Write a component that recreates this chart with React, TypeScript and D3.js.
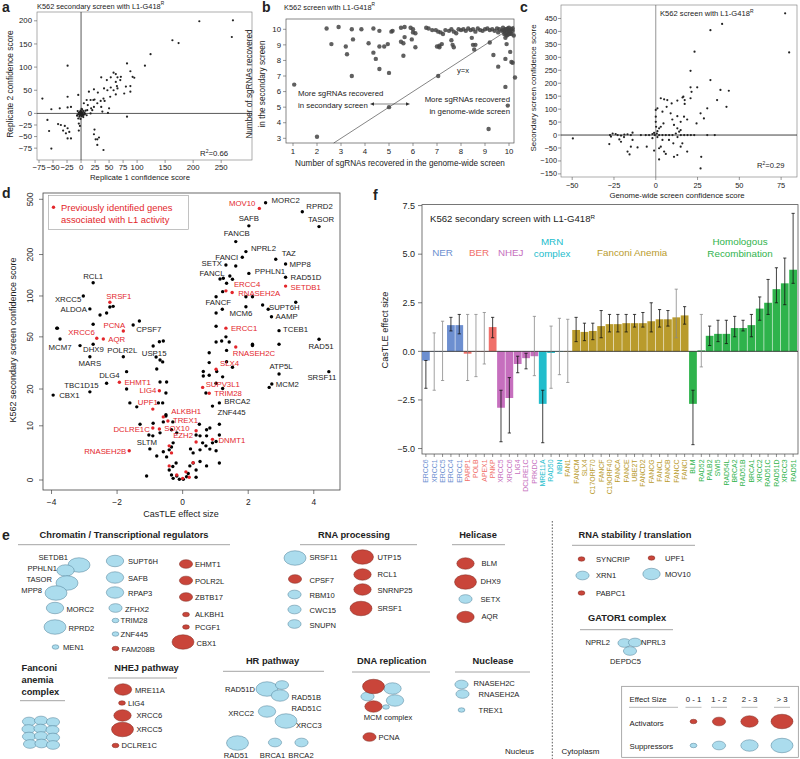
import React from "react";
import * as d3 from "d3";

const FONT = "'Liberation Sans', Arial, Helvetica, sans-serif";
const INK = "#222";
const RED = "#e3262b";

// ---------- panel a: replicate 1 vs replicate 2 confidence score
const aPoints: [number, number][] = [
  [271, 201], [211, 199], [269, 165], [163, 158], [174, 152], [124, 128], [114, 103], [82, 108], [-24, 103],
  [36, 78], [53, 78], [58, 88], [62, 85], [65, 78], [62, 68], [46, 72], [53, 56], [41, 54], [58, 50], [65, 54],
  [62, 41], [52, 36], [47, 50], [40, 32], [23, 52], [30, 45], [24, 30], [17, 29], [12, 18], [18, 11], [10, 29],
  [5, 22], [-5, 40], [-18, 14], [-24, 36], [-24, 13], [-38, 11], [-69, 32], [-53, 9], [-60, -14], [-57, -38],
  [-53, -76], [-41, -23], [-36, -25], [-29, -27], [-24, -32], [-21, -40], [-24, -54], [-18, -54], [-27, -43],
  [-32, -37], [-7, -4], [-5, -11], [-4, -22], [-2, -27], [-4, -37], [23, -45], [24, -35], [26, -56], [29, -56],
  [29, -68], [40, -79], [32, -52], [82, -7], [48, 1], [88, 91], [92, 79], [95, 77], [88, 59], [88, 47], [80, 58],
  [70, 72], [64, 59], [71, 79], [77, 43], [14, 47], [22, 29], [29, 22], [35, 27], [42, 27], [23, 14], [20, 7],
  [11, 7], [17, 0], [10, -4], [36, 14], [50, 11], [38, 4], [-3, 2], [-1, -1], [1, 3], [2, -2], [0, 0], [-2, -4],
  [3, 1], [4, 5], [-4, 1], [5, -3], [1, -6], [-1, 6], [2, 8], [-5, -2], [6, 2], [3, -5], [-2, 3], [0, -3], [0, 4],
  [7, -1], [-6, 5], [-3, -7], [1, 10], [4, -8], [-1, -12], [2, 1], [-2, -1], [8, 6], [-7, -5], [0, 2],
];
const aXTicks = [-75, -50, -25, 0, 25, 50, 75, 100, 150, 200, 250];
const aYTicks = [-75, -50, -25, 0, 50, 100, 150, 200];

// ---------- panel b: sgRNAs recovered
const bPoints: [number, number][] = [
  [1.05, 6.45], [2.0, 3.1], [2.4, 10.05], [2.6, 9.05], [2.9, 10.15], [3.2, 8.9], [3.25, 8.4], [3.45, 10.0],
  [3.5, 9.35], [3.45, 7.0], [3.85, 10.0], [4.15, 9.1], [4.35, 10.05], [4.35, 8.5], [4.45, 8.1], [4.6, 9.9],
  [4.6, 8.9], [4.6, 7.45], [4.8, 8.9], [4.95, 9.05], [5.0, 7.2], [5.0, 5.0], [5.1, 9.85], [5.15, 9.9],
  [5.5, 10.1], [5.5, 9.2], [5.6, 9.1], [5.65, 10.15], [5.65, 9.5], [5.6, 8.3], [5.9, 10.1], [5.95, 9.35],
  [6.0, 9.8], [6.1, 9.75], [6.0, 10.0], [6.1, 8.85], [6.55, 10.1], [6.65, 10.05], [6.8, 9.95], [6.95, 9.95],
  [7.0, 8.9], [7.05, 9.85], [7.05, 7.0], [7.1, 8.95], [7.15, 9.8], [7.2, 9.05], [7.1, 8.85], [7.25, 9.7],
  [7.35, 9.95], [7.5, 9.9], [7.6, 10.0], [7.6, 9.3], [7.65, 9.0], [7.7, 9.85], [7.7, 8.85], [7.8, 9.75],
  [7.9, 10.0], [8.0, 9.95], [8.1, 10.0], [8.2, 9.9], [8.3, 10.05], [8.4, 9.95], [8.45, 9.45], [8.5, 10.0],
  [8.5, 9.0], [8.55, 8.7], [8.6, 9.85], [8.6, 9.0], [8.7, 10.05], [8.8, 9.95], [8.9, 9.9], [9.0, 10.0],
  [9.1, 10.05], [9.2, 9.95], [9.2, 9.15], [9.3, 10.0], [9.35, 8.35], [9.4, 9.9], [9.5, 10.05], [9.55, 9.8],
  [9.55, 7.6], [9.6, 10.0], [9.7, 9.9], [9.75, 10.1], [9.8, 9.7], [9.85, 10.0], [9.85, 8.1], [9.85, 9.45],
  [9.85, 6.3], [9.9, 9.85], [9.9, 9.05], [9.9, 9.6], [9.95, 10.05], [9.95, 5.1], [10.0, 9.95], [10.0, 10.1],
  [10.05, 9.75], [10.05, 8.55], [10.1, 10.0], [10.1, 7.9], [10.15, 9.9], [10.15, 7.85], [10.2, 9.6],
  [10.25, 6.9], [9.15, 3.6], [9.8, 9.9], [9.9, 10.0], [10.0, 9.85], [10.1, 9.7], [9.95, 9.65], [10.05, 9.9],
  [9.75, 9.95], [10.15, 10.05], [9.85, 9.75], [10.0, 9.7],
];
const bXTicks = [1, 2, 3, 4, 5, 6, 7, 8, 9, 10];
const bYTicks = [3, 4, 5, 6, 7, 8, 9, 10];

// ---------- panel c: genome-wide vs secondary screen
const cPoints: [number, number][] = [
  [77.4, 470], [39.7, 429], [32.7, 405], [79.8, 319], [23.2, 322], [20.8, 248], [32.7, 212], [38.7, 174],
  [43.7, 171], [24.8, 184], [20.8, 184], [21.4, 167], [20.8, 142], [16.5, 148], [36.7, 135], [42.3, 109],
  [30.8, 103], [28.8, 64], [26.8, 84], [24.4, 45], [30.8, 0], [35.3, 0], [3, 142], [5, 138], [6.9, 135],
  [9.5, 122], [12.9, 133], [16, 145], [17.3, 135], [17.3, 120], [6.5, 109], [1, 103], [4, 90], [8.9, 84],
  [12.9, 73], [16.9, 71], [18.8, 60], [14.9, 51], [9.9, 60], [4.6, 45], [2, 26], [0, 97], [0, 71], [0, 51],
  [0.2, 32], [3, 32], [10.9, 39], [12.9, 26], [14.9, 19], [-27.4, 0], [-25.8, 6], [-22.8, 0], [-20.8, -2],
  [-18.8, 2], [-16.9, 3], [-14.9, 0], [-13.9, 9], [-8.9, 0], [-6, 0], [-4, 0], [-2, 4], [-0.6, 0], [0.6, 6],
  [2, 0], [4, 0], [6, 0], [8, 0], [10, 0], [12, 6], [14, 13], [15, 0], [17, 0], [19, 0], [21, 0], [23, 0],
  [-49.6, -13], [-27.8, -35], [-26.8, -6], [-21.8, -17], [-20.8, -26], [-16.9, -64], [-15.7, -75], [-14.9, -45],
  [-13.9, -19], [-10.9, -48], [-5.4, -45], [-1, -60], [2, -51], [3, -45], [4, -19], [5, -64], [6, -73],
  [2, -94], [10.9, -84], [12.9, -77], [14.9, -45], [15.9, -32], [18.8, -64], [27.2, -84], [26.8, -129],
  [7.9, -19], [10.5, -32], [-1, 8], [1, -8], [-2, -12], [1, 15], [13, -8], [-19, -8], [-24, 4],
];
const cXTicks = [-50, -25, 0, 25, 50, 75];
const cYTicks = [-150, -100, -50, 0, 50, 100, 150, 200, 250, 300, 350, 400, 450];

// ---------- panel d: CasTLE effect vs confidence score
// [gene, effect size, confidence score, previously identified]
const dLabeled: [string, number, number, boolean][] = [
  ["MOV10", 2.34, 430, true], ["MORC2", 2.53, 472, false], ["RPRD2", 3.65, 407, false],
  ["TASOR", 4.16, 318, false], ["SAFB", 2.02, 322, false], ["FANCB", 1.62, 248, false],
  ["NPRL2", 1.93, 210, false], ["TAZ", 2.84, 185, false], ["MPP8", 3.14, 171, false],
  ["FANCI", 1.82, 191, false], ["SETX", 1.32, 168, false], ["FANCL", 1.14, 133, false],
  ["PPHLN1", 2.02, 146, false], ["RAD51D", 3.14, 137, false], ["SETDB1", 3.14, 118, true],
  ["ERCC4", 1.32, 109, true], ["RNASEH2A", 1.51, 106, true], ["FANCF", 1.21, 80, false],
  ["MCM6", 1.93, 83.5, false], ["SUPT6H", 3.45, 90, false], ["AAMP", 2.71, 70.5, false],
  ["TCEB1", 2.94, 55.6, false], ["RAD51", 4.16, 48, false], ["ERCC1", 1.32, 58, true],
  ["RNASEH2C", 1.62, 42, true], ["ATP5L", 2.94, 26.2, false], ["MCM2", 2.72, 21.9, false],
  ["SRSF11", 4.46, 27.3, false], ["SLX4", 1.02, 28.5, true], ["SUPV3L1", 0.61, 20.6, true],
  ["TRIM28", 0.81, 18.5, true], ["BRCA2", 1.12, 15.5, false], ["ZNF445", 0.91, 14.6, false],
  ["DNMT1", 0.91, 7.5, true], ["EZH2", 0.41, 9.1, true], ["SOX10", -0.71, 9.4, true],
  ["ALKBH1", -0.59, 11.9, true], ["TREX1", -0.45, 11.0, true], ["DCLRE1C", -0.91, 9.6, true],
  ["SLTM", -1.03, 8.3, false], ["RNASEH2B", -1.63, 5.4, true], ["UPF1", -0.91, 13.8, true],
  ["LIG4", -0.71, 19.4, true], ["EHMT1", -1.93, 22.6, true], ["DLG4", -1.71, 27.3, false],
  ["TBC1D15", -2.32, 22.2, false], ["CBX1", -3.95, 17.9, false], ["MARS", -2.83, 35.5, false],
  ["MCM7", -3.74, 48.2, false], ["DHX9", -3.13, 43, false], ["POLR2L", -1.81, 35.5, false],
  ["USP15", -0.9, 42.7, false], ["CPSF7", -1.51, 61.2, false], ["PCNA", -1.81, 55.3, true],
  ["AQR", -2.42, 48.2, true], ["XRCC6", -2.62, 48.8, true], ["ALDOA", -2.83, 80.4, false],
  ["SRSF1", -2.22, 90, true], ["XRCC5", -3.03, 100, false], ["RCL1", -2.73, 125, false],
];
const dOther: [number, number][] = [
  [-2.22, 83], [-2.12, 84], [-2.52, 72.6], [-2.32, 75], [-3.82, 58], [-2.73, 44], [-2.73, 62], [-1.32, 65.5],
  [-0.71, 46], [-0.59, 46.6], [-0.81, 35.3], [-0.69, 33.5], [-0.61, 32.4], [-0.79, 28.6], [-1.71, 20],
  [-1.61, 15.5], [-1.4, 14.4], [-0.69, 22.7], [-0.49, 22.7], [-0.51, 18.6], [-0.74, 15.5], [-0.61, 15.5],
  [-0.51, 12.4], [-2.83, 19], [-1.3, 10.3], [-0.9, 10.5], [-0.91, 8.15], [-0.69, 8.7], [-0.51, 12.1],
  [-0.59, 10.8], [-0.3, 10.8], [-0.34, 9.26], [-1.0, 5.74], [-0.79, 4.44], [-0.59, 5.2], [-0.49, 4.26],
  [-0.41, 5.56], [-0.29, 6.85], [-0.34, 6.1], [-0.2, 3.15], [-0.3, 2.5], [-0.41, 1.85], [-0.34, 0.93],
  [-0.29, 0.3], [-0.18, 0.74], [-0.1, 0.15], [0.02, 0.15], [0.12, 0.6], [0.17, 1.2], [0.22, 2.6], [0.32, 3.15],
  [0.41, 1.85], [0.41, 0.5], [0.53, 3.4], [0.24, 5.74], [0.32, 5.0], [0.53, 5.56], [0.61, 6.85], [0.51, 10.3],
  [0.41, 8.3], [0.73, 9.26], [0.83, 9.6], [0.71, 6.3], [0.83, 5.7], [1.02, 5.4], [0.91, 6.85], [1.02, 7.1],
  [1.12, 8.3], [1.12, 3.15], [0.73, 2.6], [-1.1, 0.74], [0.53, 8.15], [0.73, 8.15], [-0.18, 8.7],
  [1.62, 165], [1.24, 134.6], [1.34, 123.8], [1.44, 139.8], [1.52, 132.3], [1.22, 107.5], [1.02, 98.8],
  [1.93, 98.8], [2.13, 98.8], [2.44, 86], [2.61, 80], [1.02, 75], [1.02, 60], [1.02, 45.8], [1.19, 46.5],
  [1.32, 50], [1.42, 45.8], [0.81, 38], [0.81, 32], [1.34, 39.6], [1.34, 32.5], [1.52, 29.5], [2.13, 44],
  [2.13, 43], [0.63, 27.4], [0.63, 25.3], [0.81, 25.6], [1.04, 27.4], [1.02, 22.2], [1.22, 24.9], [1.22, 20.2],
  [0.71, 18.6], [2.64, 20.6], [2.94, 44], [1.12, 10.3], [-3.84, 58],
];
const dOtherRed: [number, number][] = [
  [0.41, 7.0], [-0.41, 6.3], [-0.34, 5.0], [-0.41, 2.6], [-0.18, 0.93], [0.32, 3.2], [0.1, 1.5], [0.0, 0.3], [0.2, 0.5],
];
const dXTicks = [-4, -2, 0, 2, 4];
const dYTicks = [0, 10, 20, 50, 100, 200, 500];

// ---------- panel f: CasTLE effect per DNA repair gene
const fGenes = [
  "ERCC6", "XRCC1", "ERCC5", "ERCC4", "ERCC1", "PARP1", "POLB", "APEX1", "PNKP", "XRCC5", "XRCC6", "LIG4",
  "DCLRE1C", "PRKDC", "MRE11A", "RAD50", "NBN", "FAN1", "FANCM", "SLX4", "C17ORF70", "FANCF", "C19ORF40",
  "FANCA", "FANCE", "UBE2T", "FANCD2", "FANCG", "FANCL", "FANCB", "FANCC", "FANCI", "BLM", "RAD52", "PALB2",
  "SWI5", "RAD54L", "BRCA2", "RAD51B", "BRCA1", "XRCC2", "RAD51C", "RAD51D", "XRCC3", "RAD51",
];
const fValues = [
  -0.47, 0.02, 0.02, 1.35, 1.35, -0.12, 0.02, 0.02, 1.25, -2.9, -2.4, -0.65, -0.35, -0.25, -2.7, -0.08, 0.02,
  0.02, 1.1, 1.0, 1.05, 1.3, 1.4, 1.4, 1.45, 1.45, 1.45, 1.55, 1.65, 1.65, 1.75, 1.85, -2.7, 0.05, 0.8, 0.9,
  0.9, 1.2, 1.2, 1.35, 2.2, 2.5, 3.2, 3.5, 4.2,
];
const fLow = [
  -1.9, -2.0, -1.5, 1.05, 0.9, -1.5, -1.3, -0.65, 0.7, -4.65, -4.2, -1.1, -0.9, -1.25, -4.7, -1.9, -1.2, -1.6,
  0.5, 0.55, 0.6, 0.7, 1.0, 1.0, 1.0, 1.25, 1.25, 1.0, 1.25, 1.3, 0.7, 1.4, -4.8, -0.8, 0.3, 0.5, 0.4, 0.75,
  1.05, 0.75, 1.6, 1.9, 2.5, 2.4, 3.5,
];
const fHigh = [
  -0.47, 0.95, 1.55, 1.75, 1.9, 1.9, 1.9, 2.0, 1.75, -2.0, -1.35, -0.25, -0.1, 1.8, -2.0, 1.3, 1.7, 1.65, 1.75,
  1.45, 1.45, 2.1, 1.9, 1.9, 1.9, 1.9, 2.0, 2.5, 2.15, 2.1, 3.2, 2.3, -2.0, 1.9, 1.3, 1.6, 1.6, 1.8, 1.6, 1.9,
  2.8, 3.7, 4.3, 4.8, 7.1,
];
const fGrayWhisker = ["FANCC"];
const fGroupNames = [["NER"], ["BER"], ["NHEJ"], ["MRN", "complex"], ["Fanconi Anemia"], ["Homologous", "Recombination"]];
const fGroupSizes = [5, 4, 5, 3, 15, 13];
const fGroupColors = ["#6d8fd0", "#f0706a", "#c66fbe", "#22bdcc", "#b99b2c", "#2fb34c"];
const fYTicks = [-5, -2.5, 0, 2.5, 5, 7.5];

// ---------- panel e: effect sizes (positive = suppressor, negative = activator)
const eChromatin = ["SETDB1", "PPHLN1", "TASOR", "MPP8", "MORC2", "RPRD2", "MEN1", "SUPT6H", "SAFB", "RPAP3", "ZFHX2", "TRIM28", "ZNF445", "FAM208B", "EHMT1", "POLR2L", "ZBTB17", "ALKBH1", "PCGF1", "CBX1"];
const eChromatinFx = [3.1, 2.2, 3.6, 3.3, 2.5, 3.4, 0.6, 2.6, 2.3, 2.4, 1.5, 0.7, 0.8, -0.6, -1.9, -1.8, -1.6, -0.6, -0.7, -3.9];
const eFanconi = ["FANCA", "FANCB", "FANCC", "FANCE", "FANCF", "FANCG", "FANCL", "FANCM", "FAAP100", "FAAP24", "FANCD2", "FANCI"];
const eFanconiFx = [1.4, 1.6, 1.7, 1.4, 1.3, 1.5, 1.6, 1.1, 1.3, 1.2, 1.4, 1.8];
const eNhej = ["MRE11A", "LIG4", "XRCC6", "XRCC5", "DCLRE1C"];
const eNhejFx = [-2.5, -0.7, -2.4, -3.0, -0.9];
const eHr = ["RAD51D", "RAD51B", "RAD51C", "XRCC2", "XRCC3", "RAD51", "BRCA1", "BRCA2"];
const eHrFx = [3.2, 1.5, 2.5, 2.2, 3.5, 4.2, 1.35, 1.2];
const eRna = ["SRSF11", "CPSF7", "RBM10", "CWC15", "SNUPN", "UTP15", "RCL1", "SNRNP25", "SRSF1"];
const eRnaFx = [4.4, -1.5, 1.2, 1.2, 1.1, -3.2, -2.7, -2.4, -3.1];
const eHelicase = ["BLM", "DHX9", "SETX", "AQR"];
const eHelicaseFx = [-2.7, -3.1, 1.3, -2.4];
const eMcm = ["MCM6", "MCM3", "MCM2", "MCM5", "MCM7", "MCM4"];
const eMcmFx = [2.1, 1.4, 2.7, 0.5, -3.8, -2.6];
const ePcna = ["PCNA"];
const ePcnaFx = [-1.8];
const eNuclease = ["RNASEH2C", "RNASEH2A", "TREX1"];
const eNucleaseFx = [1.6, 1.5, 0.5];
const eRnaStab = ["SYNCRIP", "UPF1", "XRN1", "MOV10", "PABPC1"];
const eRnaStabFx = [-0.6, -0.9, 1.5, 2.3, -0.6];
const eGator = ["NPRL2", "NPRL3", "DEPDC5"];
const eGatorFx = [1.6, 1.5, 1.6];
const eLegendBins = ["0 - 1", "1 - 2", "2 - 3", "> 3"];
const eLegendFx = [0.5, 1.5, 2.5, 3.5];

const fmtMinus = (s: string) => s.replace("-", "\u2212");

// layouts for panel e: [cx, cy, labelX, labelY, anchor]
type Lay = [number, number, number, number, string];
const layChromatin: Lay[] = [
  [79, 565, 68, 557.5, "end"], [65.5, 570.5, 57, 568, "end"], [67, 583, 52, 579.5, "end"], [56, 593, 42, 590.5, "end"],
  [55, 608, 66.5, 609.5, "start"], [55, 627, 68.5, 628.5, "start"], [55.5, 647, 63, 647.5, "start"],
  [115, 561, 128, 561.5, "start"], [115, 577.5, 128, 578, "start"], [115, 592.5, 128, 593, "start"],
  [115.5, 608, 125, 609, "start"], [115.5, 620.5, 120.5, 620.5, "start"], [115.5, 634, 120.5, 634, "start"],
  [115.5, 648.5, 121.5, 649, "start"], [186, 564, 195, 564.5, "start"], [186, 580.5, 195, 581, "start"],
  [186, 597, 195, 597, "start"], [186, 614.5, 195, 614.5, "start"], [186, 627, 195, 627, "start"],
  [183, 642, 196.5, 643, "start"],
];
const layFanconi: [number, number][] = [
  [29, 721.5], [41, 720.5], [53, 722], [28.5, 729], [40.5, 728.5], [52.5, 730], [29, 736.5], [41, 736],
  [53, 737.5], [30, 744], [41.5, 743.5], [53, 745],
];
const layNhej: Lay[] = [
  [123, 689.5, 135, 690, "start"], [122, 703, 128, 703, "start"], [122.5, 715.5, 136.5, 715, "start"],
  [122.5, 729.5, 136.5, 729.5, "start"], [115.5, 745.5, 121.5, 745.5, "start"],
];
const layHr: Lay[] = [
  [267, 689, 255, 689.5, "end"], [282, 685, 291.5, 697, "start"], [280, 695.5, 291.5, 708, "start"],
  [267, 711.5, 254, 713, "end"], [286, 721, 296, 725.5, "start"], [237.5, 743, 236, 755, "middle"],
  [275, 742.5, 272.5, 755, "middle"], [301.5, 742.5, 301, 755, "middle"],
];
const layRna: Lay[] = [
  [295, 558, 309.5, 557.5, "start"], [295, 579, 309.5, 580, "start"], [294.5, 594.5, 309.5, 595, "start"],
  [294.5, 609.5, 309.5, 610, "start"], [294.5, 624, 309.5, 625, "start"], [362.5, 557, 377.5, 557, "start"],
  [362.5, 574.5, 377.5, 574, "start"], [362.5, 589.5, 377.5, 590, "start"], [361, 608.5, 377.5, 608, "start"],
];
const layHelicase: Lay[] = [
  [465.5, 563.5, 481.5, 563, "start"], [465.5, 582, 480.5, 581.5, "start"], [465.5, 599, 480.5, 599, "start"],
  [465.5, 617, 481.5, 616.5, "start"],
];
const layMcm: [number, number][] = [[392.5, 688.5], [367.5, 696.5], [395, 700.5], [386, 707], [373.5, 686.5], [373.5, 706.5]];
const layPcna: Lay[] = [[369.5, 737, 378.5, 737, "start"]];
const layNuclease: Lay[] = [
  [461.5, 684.5, 473.5, 683.5, "start"], [462.5, 694, 478.5, 694, "start"], [461.5, 710, 478.5, 710, "start"],
];
const layRnaStab: Lay[] = [
  [581.5, 559, 596, 559, "start"], [651.5, 558, 665, 558, "start"], [582.5, 575.5, 596, 575.5, "start"],
  [651.5, 574, 665, 574, "start"], [581.5, 593, 596, 593, "start"],
];
const layGator: Lay[] = [
  [624.5, 643, 610, 642.5, "end"], [635, 642.5, 641, 642.5, "start"], [630, 651, 625.5, 661.5, "middle"],
];

const rxScale = d3.scaleThreshold<number, number>().domain([1, 2, 3]).range([3.4, 6.6, 8.7, 11]);
const LIGHT = "#abdced";
const LIGHT_STROKE = "#4c7d94";
const DARK = "#c9453a";
const DARK_STROKE = "#7f2a21";

function Bubble({ x, y, fx }: { x: number; y: number; fx: number }) {
  const rx = rxScale(Math.abs(fx));
  const act = fx < 0;
  return (
    <ellipse cx={x} cy={y} rx={rx} ry={rx * 0.66} fill={act ? DARK : LIGHT}
      stroke={act ? DARK_STROKE : LIGHT_STROKE} strokeWidth={0.5} />
  );
}

function BubbleGroup({ genes, fx, lay }: { genes: string[]; fx: number[]; lay: Lay[] }) {
  return (
    <g>
      {genes.map((g, i) => (
        <Bubble key={g} x={lay[i][0]} y={lay[i][1]} fx={fx[i]} />
      ))}
      {genes.map((g, i) => (
        <text key={g + "t"} x={lay[i][2]} y={lay[i][3]} textAnchor={lay[i][4] as any}
          dominantBaseline="central" fontSize={7.6} fill={INK}>{g}</text>
      ))}
    </g>
  );
}

function Header({ lines, x, y, anchor, ux1, ux2, uy }: { lines: string[]; x: number; y: number; anchor: string; ux1: number; ux2: number; uy: number }) {
  return (
    <g>
      {lines.map((l, i) => (
        <text key={l} x={x} y={y + i * 12.2} textAnchor={anchor as any} dominantBaseline="central"
          fontSize={9.3} fontWeight="bold" fill={INK}>{l}</text>
      ))}
      <line x1={ux1} x2={ux2} y1={uy} y2={uy} stroke="#9a9a9a" strokeWidth={0.9} />
    </g>
  );
}

function Sup({ children }: { children: React.ReactNode }) {
  return <tspan fontSize="65%" dy={-3.2}>{children}</tspan>;
}

function PanelA() {
  const x = d3.scaleLinear().domain([-78.6, 305]).range([37, 252]);
  const y = d3.scaleLinear().domain([-100.6, 219]).range([160, 12]);
  return (
    <g fontSize={7.8} fill={INK}>
      <text x={2} y={12} fontSize={14} fontWeight="bold">a</text>
      <text x={37} y={8.5} fontSize={7.4}>K562 secondary screen with L1-G418<Sup>R</Sup></text>
      <rect x={37} y={12} width={215} height={148} fill="none" stroke="#777" strokeWidth={0.6} />
      <line x1={x(0)} x2={x(0)} y1={12} y2={160} stroke="#111" strokeWidth={0.7} />
      <line x1={37} x2={252} y1={y(0)} y2={y(0)} stroke="#111" strokeWidth={0.7} />
      {aPoints.map((p, i) => <circle key={i} cx={x(p[0])} cy={y(p[1])} r={1.1} fill="#222" />)}
      {aXTicks.map(t => (
        <g key={t}>
          <line x1={x(t)} x2={x(t)} y1={160} y2={163} stroke="#555" strokeWidth={0.6} />
          <text x={x(t)} y={170} textAnchor="middle">{fmtMinus(String(t))}</text>
        </g>
      ))}
      {aYTicks.map(t => (
        <g key={t}>
          <line x1={34} x2={37} y1={y(t)} y2={y(t)} stroke="#555" strokeWidth={0.6} />
          <text x={32} y={y(t)} dy="0.34em" textAnchor="end">{fmtMinus(String(t))}</text>
        </g>
      ))}
      <text x={200} y={156}>R<Sup>2</Sup><tspan dy={3.2}>=0.66</tspan></text>
      <text x={140} y={180} textAnchor="middle" fontSize={7.8}>Replicate 1 confidence score</text>
      <text transform="translate(13,84) rotate(-90)" textAnchor="middle" fontSize={8.4}>Replicate 2 confidence score</text>
    </g>
  );
}

function Arrow({ x1, x2, y }: { x1: number; x2: number; y: number }) {
  return (
    <g>
      <line x1={x1 + 2} x2={x2 - 2} y1={y} y2={y} stroke="#333" strokeWidth={0.6} />
      <path d={`M${x1},${y}l4,-1.8v3.6z`} fill="#333" />
      <path d={`M${x2},${y}l-4,-1.8v3.6z`} fill="#333" />
    </g>
  );
}

function PanelB() {
  const x = d3.scaleLinear().domain([1, 10]).range([293, 509]);
  const y = d3.scaleLinear().domain([3, 10]).range([138.3, 29.3]);
  const x0 = x.invert(286), x1 = x.invert(514), y0 = y.invert(143), y1 = y.invert(19);
  const lo = Math.max(x0, y0), hi = Math.min(x1, y1);
  return (
    <g fontSize={7.8} fill={INK}>
      <text x={262} y={12} fontSize={14} fontWeight="bold">b</text>
      <text x={284} y={9.5} fontSize={7.4}>K562 screen with L1-G418<Sup>R</Sup></text>
      <rect x={286} y={19} width={228} height={124} fill="none" stroke="#555" strokeWidth={0.7} />
      <line x1={x(lo)} y1={y(lo)} x2={x(hi)} y2={y(hi)} stroke="#333" strokeWidth={0.6} />
      {bPoints.map((p, i) => <circle key={i} cx={x(p[0])} cy={y(p[1])} r={2.2} fill="#444" fillOpacity={0.85} />)}
      {bXTicks.map(t => (
        <g key={t}>
          <line x1={x(t)} x2={x(t)} y1={143} y2={146} stroke="#555" strokeWidth={0.6} />
          <text x={x(t)} y={154} textAnchor="middle">{t}</text>
        </g>
      ))}
      {bYTicks.map(t => (
        <g key={t}>
          <line x1={283} x2={286} y1={y(t)} y2={y(t)} stroke="#555" strokeWidth={0.6} />
          <text x={281} y={y(t)} dy="0.34em" textAnchor="end">{t}</text>
        </g>
      ))}
      <text x={457} y={73} fontSize={7.6}>y=x</text>
      <text x={298} y={96} fontSize={7.8}>More sgRNAs recovered</text>
      <text x={298} y={108} fontSize={7.8}>in secondary screen</text>
      <text x={510} y={102} fontSize={7.8} textAnchor="end">More sgRNAs recovered</text>
      <text x={510} y={114} fontSize={7.8} textAnchor="end">in genome-wide screen</text>
      <Arrow x1={370} x2={410} y={104} />
      <text x={400} y={166} textAnchor="middle" fontSize={8.2}>Number of sgRNAs recovered in the genome-wide screen</text>
      <text transform="translate(252,84) rotate(-90)" textAnchor="middle" fontSize={8.2}>Number of sgRNAs recovered</text>
      <text transform="translate(265,84) rotate(-90)" textAnchor="middle" fontSize={8.2}>in the secondary screen</text>
    </g>
  );
}

function PanelC() {
  const x = d3.scaleLinear().domain([-56.7, 84.5]).range([561, 797]);
  const y = d3.scaleLinear().domain([-162, 502]).range([177, 5]);
  return (
    <g fontSize={7.4} fill={INK}>
      <text x={520} y={12} fontSize={14} fontWeight="bold">c</text>
      <rect x={561} y={5} width={236} height={172} fill="none" stroke="#777" strokeWidth={0.6} />
      <line x1={x(0)} x2={x(0)} y1={5} y2={177} stroke="#666" strokeWidth={0.7} />
      <line x1={561} x2={797} y1={y(0)} y2={y(0)} stroke="#111" strokeWidth={0.8} />
      {cPoints.map((p, i) => <circle key={i} cx={x(p[0])} cy={y(p[1])} r={1.1} fill="#222" />)}
      {cXTicks.map(t => (
        <g key={t}>
          <line x1={x(t)} x2={x(t)} y1={177} y2={180} stroke="#555" strokeWidth={0.6} />
          <text x={x(t)} y={188} textAnchor="middle">{fmtMinus(String(t))}</text>
        </g>
      ))}
      {cYTicks.map(t => (
        <g key={t}>
          <line x1={558} x2={561} y1={y(t)} y2={y(t)} stroke="#555" strokeWidth={0.6} />
          <text x={557} y={y(t)} dy="0.34em" textAnchor="end">{fmtMinus(String(t))}</text>
        </g>
      ))}
      <text x={660} y={16} fontSize={7.6}>K562 screen with L1-G418<Sup>R</Sup></text>
      <text x={757} y={168} fontSize={7.6}>R<Sup>2</Sup><tspan dy={3.2}>=0.29</tspan></text>
      <text x={677} y={198} textAnchor="middle" fontSize={7.8}>Genome-wide screen confidence score</text>
      <text transform="translate(536,88) rotate(-90)" textAnchor="middle" fontSize={8}>Secondary screen confidence score</text>
    </g>
  );
}

// label placement for panel d: dx, dy, anchor
const dLabelPos: Record<string, [number, number, string]> = {
  MOV10: [-4, -5, "end"], MORC2: [6, -3, "start"], RPRD2: [4, -5, "start"], TASOR: [2, -7, "middle"],
  SAFB: [0, -8, "middle"], FANCB: [1, -8, "middle"], NPRL2: [5, -3, "start"], TAZ: [6, -5.5, "start"],
  MPP8: [4, 0, "start"], FANCI: [-4, -0.5, "end"], SETX: [-4, -1.5, "end"], FANCL: [-8, -5.5, "middle"],
  PPHLN1: [6, -2, "start"], RAD51D: [5, 0, "start"], SETDB1: [5, 1, "start"], ERCC4: [8, -6.5, "start"],
  RNASEH2A: [6, 0.5, "start"], FANCF: [-4, -7, "middle"], MCM6: [-5, 7, "middle"], SUPT6H: [4, 5, "end"],
  AAMP: [4, 0, "start"], TCEB1: [4, -1, "start"], RAD51: [2, 7, "middle"], ERCC1: [5, 0, "start"],
  RNASEH2C: [-3, 6, "start"], ATP5L: [2, -8, "middle"], MCM2: [4, 0, "start"], SRSF11: [-7, 6, "middle"],
  SLX4: [4, -6, "start"], SUPV3L1: [3, -3.5, "start"], TRIM28: [5, -0.5, "start"], BRCA2: [5, -2, "start"],
  ZNF445: [5, 6, "start"], DNMT1: [6, 1, "start"], EZH2: [-3, 5, "end"], SOX10: [5, -1, "start"],
  ALKBH1: [8, -6, "start"], TREX1: [5, -1, "start"], DCLRE1C: [-3, 1, "end"], SLTM: [-2, 7, "middle"],
  RNASEH2B: [-3, 1, "end"], UPF1: [-5, -7, "middle"], LIG4: [-3, 0, "end"], EHMT1: [5, 0, "start"],
  DLG4: [-7, 4, "end"], TBC1D15: [-8, 2, "end"], CBX1: [6, 0, "start"], MARS: [0, 7, "middle"],
  MCM7: [0, 8, "middle"], DHX9: [3, 4, "start"], POLR2L: [-1, -6, "middle"], USP15: [1, 7, "middle"],
  CPSF7: [3, 4, "start"], PCNA: [-9, -6, "middle"], AQR: [5, 0, "start"], XRCC6: [-2, -6, "end"],
  ALDOA: [-3, 0, "end"], SRSF1: [9, -6, "middle"], XRCC5: [-2, 3, "end"], RCL1: [0, -6, "middle"],
};

function PanelD() {
  const x = d3.scaleLinear().domain([-4.26, 4.8]).range([43, 340]);
  const yLog = d3.scaleLog().domain([12, 502]).range([425.8, 199.3]);
  const yLin = d3.scaleLinear().domain([0, 10]).range([480, 425.8]);
  const y = (v: number) => (v >= 10 ? yLog(v + 2) : yLin(v));
  return (
    <g fontSize={7.8} fill={INK}>
      <text x={2} y={198} fontSize={14} fontWeight="bold">d</text>
      <rect x={43} y={193} width={297} height={297} fill="none" stroke="#444" strokeWidth={0.8} />
      <rect x={48.3} y={195.5} width={140} height={34} fill="#fff" stroke="#999" strokeWidth={0.6} />
      <circle cx={53.5} cy={207.3} r={1.7} fill={RED} />
      <text x={61} y={207.3} dy="0.35em" fontSize={9.4} fill={RED}>Previously identified genes</text>
      <text x={61} y={219.5} dy="0.35em" fontSize={9.4} fill={RED}>associated with L1 activity</text>
      {dOther.map((p, i) => <circle key={"o" + i} cx={x(p[0])} cy={y(p[1])} r={1.7} fill="#000" />)}
      {dOtherRed.map((p, i) => <circle key={"r" + i} cx={x(p[0])} cy={y(p[1])} r={1.7} fill={RED} />)}
      {dLabeled.map(([g, fx, sc, known]) => {
        const [dx, dy, anc] = dLabelPos[g];
        return (
          <g key={g}>
            <circle cx={x(fx)} cy={y(sc)} r={1.7} fill={known ? RED : "#000"} />
            <text x={x(fx) + dx} y={y(sc) + dy} dy="0.35em" textAnchor={anc as any} fill={known ? RED : INK}>{g}</text>
          </g>
        );
      })}
      {dXTicks.map(t => (
        <g key={t}>
          <line x1={x(t)} x2={x(t)} y1={490} y2={494} stroke="#444" strokeWidth={0.7} />
          <text x={x(t)} y={505} textAnchor="middle" fontSize={8.4}>{fmtMinus(String(t))}</text>
        </g>
      ))}
      {dYTicks.map(t => (
        <g key={t}>
          <line x1={39} x2={43} y1={y(t)} y2={y(t)} stroke="#444" strokeWidth={0.7} />
          <text transform={`translate(33,${y(t)}) rotate(-90)`} textAnchor="middle" fontSize={8.4}>{t}</text>
        </g>
      ))}
      <text x={181} y={517} textAnchor="middle" fontSize={9}>CasTLE effect size</text>
      <text transform="translate(16,340) rotate(-90)" textAnchor="middle" fontSize={9}>K562 secondary screen confidence score</text>
    </g>
  );
}

function PanelF() {
  const x = d3.scaleBand<string>().domain(fGenes).range([422, 797]).paddingInner(0.07);
  const y = d3.scaleLinear().domain([-5.28, 7.55]).range([454, 204.6]);
  const groupOf: number[] = [];
  fGroupSizes.forEach((n, gi) => { for (let k = 0; k < n; k++) groupOf.push(gi); });
  const groupNudge = [0, -1, -7, 1, 6, -3];
  let start = 0;
  const groupCenters = fGroupSizes.map(n => {
    const a = x(fGenes[start])!, b = x(fGenes[start + n - 1])! + x.bandwidth();
    start += n;
    return (a + b) / 2;
  });
  return (
    <g fontSize={9} fill={INK}>
      <text x={373} y={200} fontSize={14} fontWeight="bold">f</text>
      <rect x={422} y={204.6} width={376} height={249.4} fill="none" stroke="#555" strokeWidth={0.8} />
      <text x={430} y={222} fontSize={9.6}>K562 secondary screen with L1-G418<Sup>R</Sup></text>
      {fGroupNames.map((lines, gi) => lines.map((l, li) => (
        <text key={l} x={groupCenters[gi] + groupNudge[gi]} y={(lines.length === 1 ? 253 : 241.5 + li * 11.8)}
          dy="0.35em" textAnchor="middle" fontSize={9.8} fill={fGroupColors[gi]}>{l}</text>
      )))}
      {fGenes.map((g, i) => {
        const v = fValues[i];
        return (
          <rect key={g} x={x(g)} width={x.bandwidth()} y={Math.min(y(v), y(0))}
            height={Math.abs(y(v) - y(0))} fill={fGroupColors[groupOf[i]]} />
        );
      })}
      <line x1={422} x2={798} y1={y(0)} y2={y(0)} stroke="#222" strokeWidth={0.8} />
      {fGenes.map((g, i) => {
        const cx = x(g)! + x.bandwidth() / 2;
        const gray = (fLow[i] < 0 && fHigh[i] > 0) || fGrayWhisker.includes(g);
        const col = gray ? "#8a8a8a" : "#111";
        return (
          <g key={g + "e"} stroke={col} strokeWidth={0.8}>
            <line x1={cx} x2={cx} y1={y(fLow[i])} y2={y(fHigh[i])} />
            <line x1={cx - 1.6} x2={cx + 1.6} y1={y(fLow[i])} y2={y(fLow[i])} />
            <line x1={cx - 1.6} x2={cx + 1.6} y1={y(fHigh[i])} y2={y(fHigh[i])} />
          </g>
        );
      })}
      {fGenes.map((g, i) => {
        const cx = x(g)! + x.bandwidth() / 2;
        return (
          <g key={g + "t"}>
            <line x1={cx} x2={cx} y1={454} y2={457} stroke="#444" strokeWidth={0.6} />
            <text transform={`translate(${cx + 2.4},${459.5}) rotate(-90)`} textAnchor="end" fontSize={6.9}
              fill={fGroupColors[groupOf[i]]}>{g}</text>
          </g>
        );
      })}
      {fYTicks.map(t => (
        <g key={t}>
          <line x1={418} x2={422} y1={y(t)} y2={y(t)} stroke="#444" strokeWidth={0.7} />
          <text x={415} y={y(t)} dy="0.35em" textAnchor="end">{fmtMinus(t.toFixed(1))}</text>
        </g>
      ))}
      <text transform="translate(388,330) rotate(-90)" textAnchor="middle" fontSize={9.2}>CasTLE effect size</text>
    </g>
  );
}

function PanelE() {
  return (
    <g fill={INK}>
      <text x={2} y={540} fontSize={14} fontWeight="bold">e</text>
      <Header lines={["Chromatin / Transcriptional regulators"]} x={124} y={534.7} anchor="middle" ux1={18} ux2={230} uy={544.7} />
      <BubbleGroup genes={eChromatin} fx={eChromatinFx} lay={layChromatin} />
      <Header lines={["Fanconi", "anemia", "complex"]} x={21.5} y={668} anchor="start" ux1={20} ux2={65} uy={700.7} />
      {eFanconi.map((g, i) => <Bubble key={g} x={layFanconi[i][0]} y={layFanconi[i][1]} fx={eFanconiFx[i]} />)}
      <Header lines={["NHEJ pathway"]} x={146.5} y={668} anchor="middle" ux1={108} ux2={177} uy={678} />
      <BubbleGroup genes={eNhej} fx={eNhejFx} lay={layNhej} />
      <Header lines={["HR pathway"]} x={272.5} y={661.3} anchor="middle" ux1={223} ux2={324} uy={671.3} />
      <BubbleGroup genes={eHr} fx={eHrFx} lay={layHr} />
      <Header lines={["RNA processing"]} x={354} y={534.7} anchor="middle" ux1={300} ux2={417} uy={544.7} />
      <BubbleGroup genes={eRna} fx={eRnaFx} lay={layRna} />
      <Header lines={["Helicase"]} x={478} y={534.7} anchor="middle" ux1={452} ux2={505} uy={544.7} />
      <BubbleGroup genes={eHelicase} fx={eHelicaseFx} lay={layHelicase} />
      <Header lines={["DNA replication"]} x={391.7} y={661.3} anchor="middle" ux1={352} ux2={430} uy={672} />
      {eMcm.map((g, i) => <Bubble key={g} x={layMcm[i][0]} y={layMcm[i][1]} fx={eMcmFx[i]} />)}
      <text x={388} y={717.5} dominantBaseline="central" textAnchor="middle" fontSize={7.6}>MCM complex</text>
      <BubbleGroup genes={ePcna} fx={ePcnaFx} lay={layPcna} />
      <Header lines={["Nuclease"]} x={493} y={661.3} anchor="middle" ux1={455} ux2={530} uy={672} />
      <BubbleGroup genes={eNuclease} fx={eNucleaseFx} lay={layNuclease} />
      <Header lines={["RNA stability / translation"]} x={635} y={534.7} anchor="middle" ux1={572} ux2={695} uy={545.3} />
      <BubbleGroup genes={eRnaStab} fx={eRnaStabFx} lay={layRnaStab} />
      <Header lines={["GATOR1 complex"]} x={627} y={618} anchor="middle" ux1={580} ux2={673} uy={629.7} />
      <BubbleGroup genes={eGator} fx={eGatorFx} lay={layGator} />
      <line x1={552.3} x2={552.3} y1={521} y2={759} stroke="#333" strokeWidth={0.8} strokeDasharray="1.6,1.6" />
      <text x={505} y={751} dominantBaseline="central" fontSize={8}>Nucleus</text>
      <text x={561.5} y={751} dominantBaseline="central" fontSize={8}>Cytoplasm</text>
      <rect x={621.7} y={686.3} width={176.6} height={71} fill="#fff" stroke="#888" strokeWidth={0.7} />
      <text x={629.5} y={699.7} dominantBaseline="central" fontSize={7.8}>Effect Size</text>
      <line x1={629} x2={678} y1={707.3} y2={707.3} stroke="#999" strokeWidth={0.7} />
      <text x={629.5} y={723} dominantBaseline="central" fontSize={7.8}>Activators</text>
      <text x={629.5} y={746.5} dominantBaseline="central" fontSize={7.8}>Suppressors</text>
      {eLegendBins.map((b, i) => {
        const cx = [693.5, 719, 749.5, 782][i];
        return (
          <g key={b}>
            <text x={cx} y={699.7} textAnchor="middle" dominantBaseline="central" fontSize={7.8}>{b}</text>
            <line x1={cx - 8} x2={cx + 8} y1={707.3} y2={707.3} stroke="#999" strokeWidth={0.7} />
            <Bubble x={cx} y={721.5} fx={-eLegendFx[i]} />
            <Bubble x={cx} y={745.5} fx={eLegendFx[i]} />
          </g>
        );
      })}
    </g>
  );
}

export default function App() {
  return (
    <svg width={800} height={759} viewBox="0 0 800 759"
      style={{ position: "absolute", left: 0, top: 0, background: "#fff", fontFamily: FONT }}>
      <rect width={800} height={759} fill="#fff" />
      <PanelA />
      <PanelB />
      <PanelC />
      <PanelD />
      <PanelF />
      <PanelE />
    </svg>
  );
}
